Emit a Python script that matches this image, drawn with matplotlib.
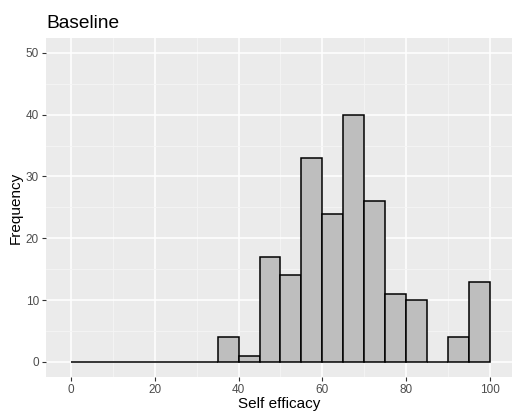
import matplotlib.pyplot as plt
import numpy as np

plt.rcParams["font.family"] = ["Liberation Sans", "DejaVu Sans"]

bin_left = np.arange(0, 100, 5)
counts = [0, 0, 0, 0, 0, 0, 0, 4, 1, 17, 14, 33, 24, 40, 26, 11, 10, 0, 4, 13]
x_ticks = [0, 20, 40, 60, 80, 100]
y_ticks = [0, 10, 20, 30, 40, 50]

fig = plt.figure(figsize=(5.12, 4.19), dpi=100)
ax = fig.add_axes([0.0898, 0.1002, 0.9102, 0.809])
ax.set_facecolor("#EBEBEB")

ax.set_xticks(np.arange(10, 100, 20), minor=True)
ax.set_yticks(np.arange(5, 50, 10), minor=True)
ax.grid(which="major", color="white", linewidth=1.1)
ax.grid(which="minor", color="#F5F5F5", linewidth=0.6)
ax.set_axisbelow(True)

ax.bar(bin_left, counts, width=5, align="edge", color="#BEBEBE",
       edgecolor="black", linewidth=1.1)

ax.set_xlim(-6.0, 105.3)
ax.set_ylim(-2.45, 52.4)
ax.set_xticks(x_ticks)
ax.set_yticks(y_ticks)
ax.tick_params(which="major", length=3, color="#333333", labelcolor="#4D4D4D",
               labelsize=8.5, pad=2)
ax.tick_params(which="minor", length=0)
for s in ax.spines.values():
    s.set_visible(False)

ax.set_xlabel("Self efficacy", fontsize=11, labelpad=1)
ax.set_ylabel("Frequency", fontsize=11, labelpad=2)
ax.set_title("Baseline", fontsize=13.8, loc="left", x=0.0, pad=7)

fig.savefig("out.png", dpi=100)
